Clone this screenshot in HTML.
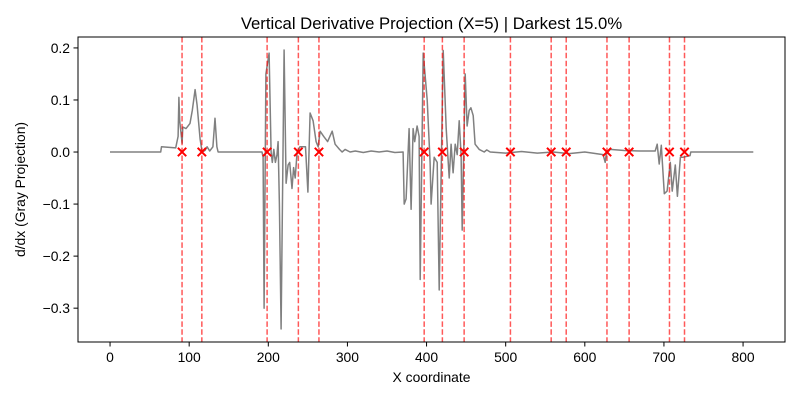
<!DOCTYPE html>
<html><head><meta charset="utf-8"><style>
body{margin:0;background:#fff;}
svg{font-family:"Liberation Sans",sans-serif;}
</style></head><body>
<svg id="chart" width="800" height="400" xmlns="http://www.w3.org/2000/svg">
<rect width="800" height="400" fill="#fff"/>
<g id="plot"></g>
</svg>
<script>
const xTicks=[0,100,200,300,400,500,600,700,800];
const yTicks=[0.2,0.1,0.0,-0.1,-0.2,-0.3];
const yTickLabels=["0.2","0.1","0.0","−0.1","−0.2","−0.3"];
const sigX=[0,64,65,83,86,87,88,91,92,96,101,104,107.5,110,113.8,116.3,120,122.6,126,130,132.7,135,136.5,192,193.4,194.7,196,197,198.5,201,203.5,205,207,209,211,212.4,214,216.2,220,222.5,225,227,230,232,234,236.4,240,245,247,250,252.8,256.6,260.4,263,265.5,270,275,280.7,284.4,290,293.3,297,303.4,310,320,330,340,350,360,370.4,371.7,374.2,378,380.5,383,385,388,390.6,392,395.7,398,400.8,404.5,405.8,409.6,413.4,416,421,424.8,428.6,431,433.6,436.2,438.7,441.2,443.7,445,448.8,451.3,453.9,456,459,461.4,466.5,472.8,476,480.4,500,520,540,560,580,600,623,624,625.8,627,632,650,670,689,691.5,694,696.7,700.4,704,708,710.5,714.4,717,720.8,724.4,733,734,813];
const sigY=[0,0,0.01,0.008,0.03,0.105,0.06,0.017,0.048,0.045,0.055,0.08,0.12,0.09,0.025,0,0.003,0.01,0.002,0.01,0.065,0.01,0,0,-0.01,-0.3,-0.05,0.15,0.165,0.19,0,-0.02,0.005,-0.02,-0.005,0.02,-0.1,-0.34,0.196,-0.06,-0.025,-0.02,-0.07,-0.03,-0.05,0,0.01,0.01,0.01,-0.077,0.075,0.06,0.02,0.01,0.04,0.03,0.02,0.04,0.015,0.005,0,0.005,0,0.002,-0.001,0.002,0,0.002,-0.001,0,-0.1,-0.09,0.045,-0.11,0.045,0.02,0.05,0.03,-0.245,0.19,0.15,0.1,-0.02,-0.1,-0.01,-0.02,-0.265,0.195,0.045,-0.05,0.015,-0.04,0.015,-0.005,0.06,-0.005,-0.15,0.15,0.05,0.08,0.085,0.07,0.015,0.005,0,0.004,0,-0.002,0.001,-0.002,0,-0.003,0,-0.005,-0.01,-0.02,-0.005,0.005,0.003,0.002,0.002,0.015,-0.023,0.013,-0.08,-0.075,-0.02,-0.075,-0.025,-0.085,-0.01,-0.01,-0.007,0,0];
const edgeX=[91,116,198.5,238,264,397,420,447.5,506,557.5,576.5,628,656,707,726];

const L=78,R=785,T=37,B=342;
const X0=-40.5,X1=853,Y0=-0.365,Y1=0.221;
const sx=v=>L+(v-X0)/(X1-X0)*(R-L);
const sy=v=>B-(v-Y0)/(Y1-Y0)*(B-T);
const NS="http://www.w3.org/2000/svg";
const g=document.getElementById('plot');
function mk(t,a,txt){const e=document.createElementNS(NS,t);for(const k in a)e.setAttribute(k,a[k]);if(txt!==undefined)e.textContent=txt;g.appendChild(e);return e;}

let d=sigX.map((x,i)=>(i?'L':'M')+sx(x).toFixed(1)+','+sy(sigY[i]).toFixed(1)).join('');
let p=mk('path',{d:d,fill:'none',stroke:'#808080','stroke-width':1.5,'stroke-linejoin':'round'});



edgeX.forEach(x=>{
  let l=mk('line',{x1:sx(x),x2:sx(x),y1:T,y2:B,stroke:'#ff0000','stroke-opacity':0.65,'stroke-width':1.5,'stroke-dasharray':'5.5,2.4'});
  
  
});
edgeX.forEach(x=>{
  const cx=sx(x),cy=sy(0),s=4.2;
  let m=mk('path',{d:`M${cx-s},${cy-s}L${cx+s},${cy+s}M${cx-s},${cy+s}L${cx+s},${cy-s}`,stroke:'#ff0000','stroke-width':2});
  
  
});

let fr=mk('rect',{x:L,y:T,width:R-L,height:B-T,fill:'none',stroke:'#000','stroke-width':1});



xTicks.forEach(v=>{
  const x=sx(v);
  let t=mk('line',{x1:x,x2:x,y1:B,y2:B+4.5,stroke:'#000'});
  
  
  let lb=mk('text',{x:x,y:B+20,'text-anchor':'middle','font-size':13.9},String(v));
  
  
});
yTicks.forEach((v,i)=>{
  const y=sy(v);
  let t=mk('line',{x1:L-4.5,x2:L,y1:y,y2:y,stroke:'#000'});
  
  
  let lb=mk('text',{x:L-8,y:y+5,'text-anchor':'end','font-size':13.9},yTickLabels[i]);
  
  
});
let ti=mk('text',{x:(L+R)/2,y:29,'text-anchor':'middle','font-size':16.7},'Vertical Derivative Projection (X=5) | Darkest 15.0%');


let xl=mk('text',{x:(L+R)/2,y:382,'text-anchor':'middle','font-size':13.9},'X coordinate');


let yl=mk('text',{x:0,y:0,'text-anchor':'middle','font-size':13.9,transform:`translate(25,${(T+B)/2}) rotate(-90)`},'d/dx (Gray Projection)');


</script>
</body></html>
